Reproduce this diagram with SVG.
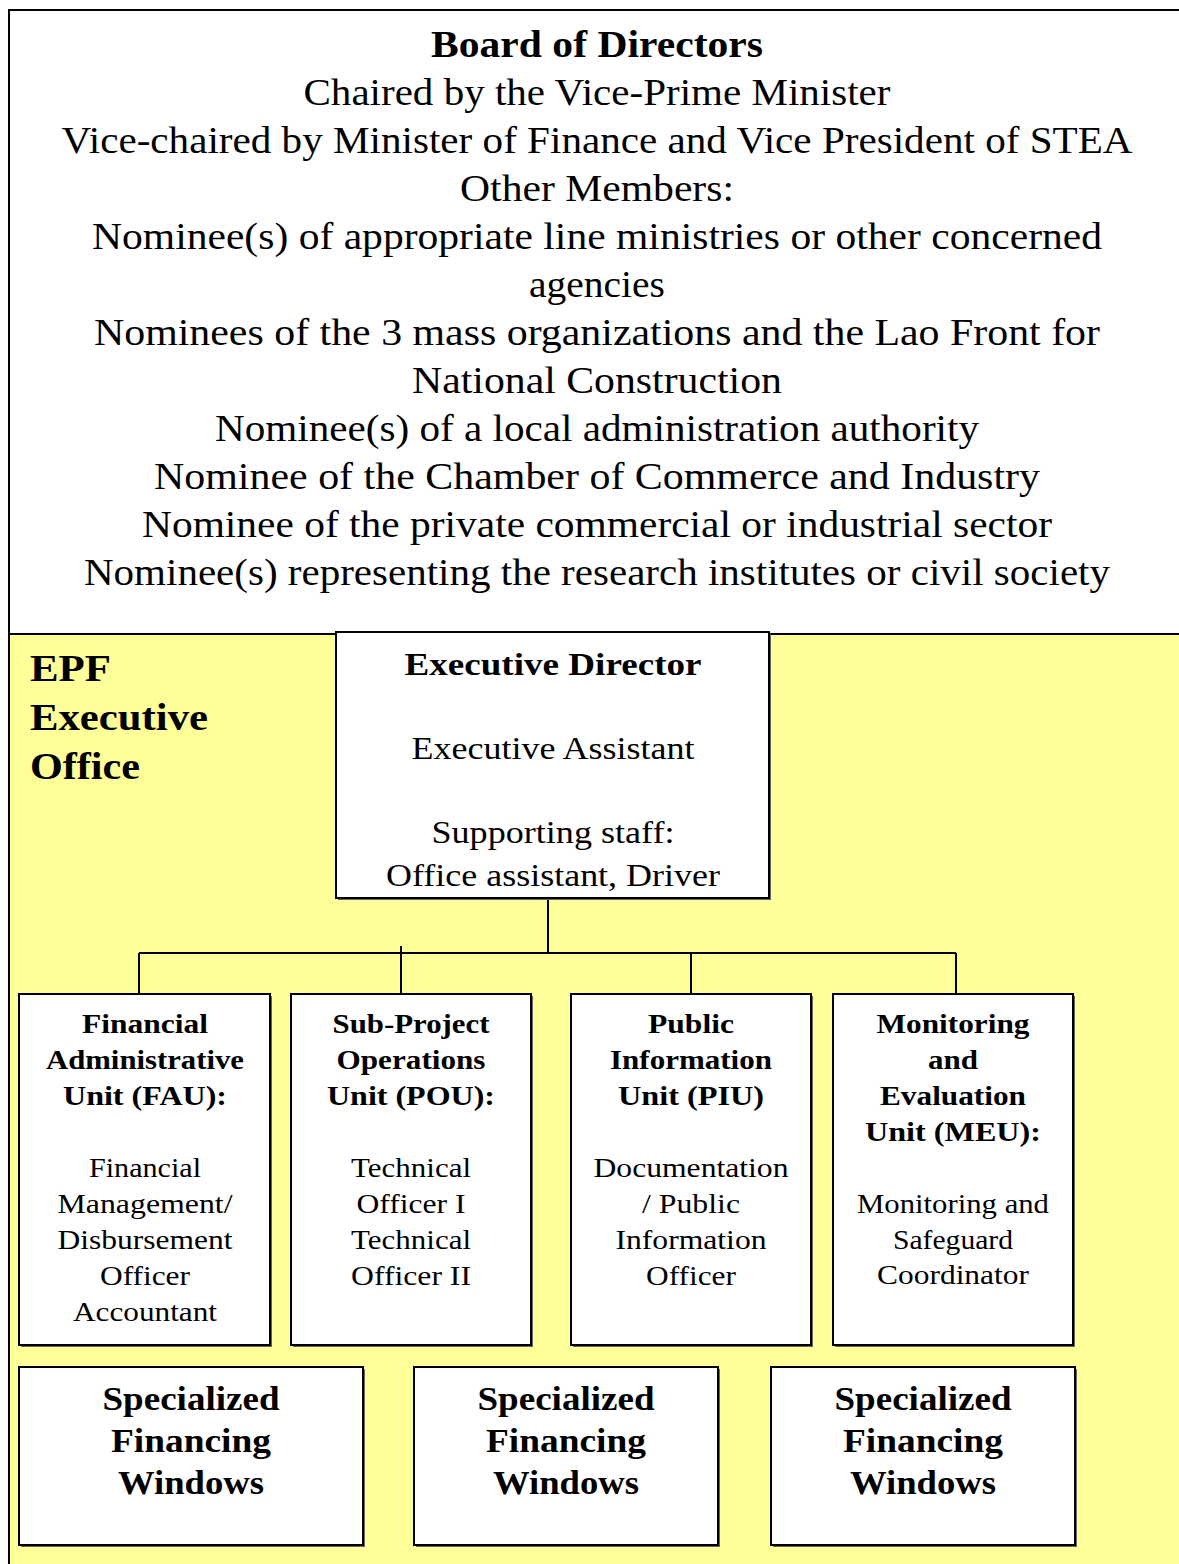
<svg xmlns="http://www.w3.org/2000/svg" width="1179" height="1564" viewBox="0 0 1179 1564">
<style>
text{font-family:"Liberation Serif","Times New Roman",serif;fill:#000;text-anchor:middle}
.b{font-weight:bold}
.box{fill:#fff;stroke:#000;stroke-width:2}
.sh{fill:#666}
.conn{stroke:#000;stroke-width:2;fill:none}
.brd{font-size:37px}
.ed{font-size:31px}
.u{font-size:28px}
.sf{font-size:34px}
</style>
<rect x="0" y="0" width="1179" height="1564" fill="#fff"/>
<g id="board">
<rect x="9" y="10" width="1185" height="624" fill="#fff" stroke="#000" stroke-width="2"/>
<text class="b brd" x="597" y="57" textLength="332" lengthAdjust="spacingAndGlyphs">Board of Directors</text>
<text class="brd" x="597" y="105" textLength="587" lengthAdjust="spacingAndGlyphs">Chaired by the Vice-Prime Minister</text>
<text class="brd" x="597" y="153" textLength="1071" lengthAdjust="spacingAndGlyphs">Vice-chaired by Minister of Finance and Vice President of STEA</text>
<text class="brd" x="597" y="201" textLength="274" lengthAdjust="spacingAndGlyphs">Other Members:</text>
<text class="brd" x="597" y="249" textLength="1010" lengthAdjust="spacingAndGlyphs">Nominee(s) of appropriate line ministries or other concerned</text>
<text class="brd" x="597" y="297" textLength="136" lengthAdjust="spacingAndGlyphs">agencies</text>
<text class="brd" x="597" y="345" textLength="1006" lengthAdjust="spacingAndGlyphs">Nominees of the 3 mass organizations and the Lao Front for</text>
<text class="brd" x="597" y="393" textLength="370" lengthAdjust="spacingAndGlyphs">National Construction</text>
<text class="brd" x="597" y="441" textLength="764" lengthAdjust="spacingAndGlyphs">Nominee(s) of a local administration authority</text>
<text class="brd" x="597" y="489" textLength="886" lengthAdjust="spacingAndGlyphs">Nominee of the Chamber of Commerce and Industry</text>
<text class="brd" x="597" y="537" textLength="910" lengthAdjust="spacingAndGlyphs">Nominee of the private commercial or industrial sector</text>
<text class="brd" x="597" y="585" textLength="1026" lengthAdjust="spacingAndGlyphs">Nominee(s) representing the research institutes or civil society</text>
</g>
<g id="epf-office">
<rect x="9" y="634" width="1185" height="940" fill="#ffff99" stroke="#000" stroke-width="2"/>
<text class="b" style="text-anchor:start;font-size:37px" x="30" y="681" textLength="81" lengthAdjust="spacingAndGlyphs">EPF</text>
<text class="b" style="text-anchor:start;font-size:37px" x="30" y="730" textLength="178" lengthAdjust="spacingAndGlyphs">Executive</text>
<text class="b" style="text-anchor:start;font-size:37px" x="30" y="779" textLength="110" lengthAdjust="spacingAndGlyphs">Office</text>
</g>
<g id="connectors">
<path class="conn" d="M548 898V953M139 953H956M139 953V994M401 946V994M691 953V994M956 953V994"/>
</g>
<g id="exec-director">
<rect class="sh" x="338" y="634" width="433" height="266"/>
<rect class="box" x="336" y="632" width="433" height="266"/>
<text class="b ed" x="553" y="675" textLength="297" lengthAdjust="spacingAndGlyphs">Executive Director</text>
<text class="ed" x="553" y="759" textLength="283" lengthAdjust="spacingAndGlyphs">Executive Assistant</text>
<text class="ed" x="553" y="843" textLength="243" lengthAdjust="spacingAndGlyphs">Supporting staff:</text>
<text class="ed" x="553" y="886" textLength="334" lengthAdjust="spacingAndGlyphs">Office assistant, Driver</text>
</g>
<g id="fau">
<rect class="sh" x="21" y="996" width="251" height="351"/>
<rect class="box" x="19" y="994" width="251" height="351"/>
<text class="b u" x="145" y="1033" textLength="126" lengthAdjust="spacingAndGlyphs">Financial</text>
<text class="b u" x="145" y="1069" textLength="198" lengthAdjust="spacingAndGlyphs">Administrative</text>
<text class="b u" x="145" y="1105" textLength="164" lengthAdjust="spacingAndGlyphs">Unit (FAU):</text>
<text class="u" x="145" y="1177" textLength="112" lengthAdjust="spacingAndGlyphs">Financial</text>
<text class="u" x="145" y="1213" textLength="175" lengthAdjust="spacingAndGlyphs">Management/</text>
<text class="u" x="145" y="1249" textLength="175" lengthAdjust="spacingAndGlyphs">Disbursement</text>
<text class="u" x="145" y="1285" textLength="90" lengthAdjust="spacingAndGlyphs">Officer</text>
<text class="u" x="145" y="1321" textLength="144" lengthAdjust="spacingAndGlyphs">Accountant</text>
</g>
<g id="pou">
<rect class="sh" x="293" y="996" width="240" height="351"/>
<rect class="box" x="291" y="994" width="240" height="351"/>
<text class="b u" x="411" y="1033" textLength="157" lengthAdjust="spacingAndGlyphs">Sub-Project</text>
<text class="b u" x="411" y="1069" textLength="149" lengthAdjust="spacingAndGlyphs">Operations</text>
<text class="b u" x="411" y="1105" textLength="168" lengthAdjust="spacingAndGlyphs">Unit (POU):</text>
<text class="u" x="411" y="1177" textLength="120" lengthAdjust="spacingAndGlyphs">Technical</text>
<text class="u" x="411" y="1213" textLength="109" lengthAdjust="spacingAndGlyphs">Officer I</text>
<text class="u" x="411" y="1249" textLength="120" lengthAdjust="spacingAndGlyphs">Technical</text>
<text class="u" x="411" y="1285" textLength="120" lengthAdjust="spacingAndGlyphs">Officer II</text>
</g>
<g id="piu">
<rect class="sh" x="573" y="996" width="240" height="351"/>
<rect class="box" x="571" y="994" width="240" height="351"/>
<text class="b u" x="691" y="1033" textLength="86" lengthAdjust="spacingAndGlyphs">Public</text>
<text class="b u" x="691" y="1069" textLength="162" lengthAdjust="spacingAndGlyphs">Information</text>
<text class="b u" x="691" y="1105" textLength="146" lengthAdjust="spacingAndGlyphs">Unit (PIU)</text>
<text class="u" x="691" y="1177" textLength="195" lengthAdjust="spacingAndGlyphs">Documentation</text>
<text class="u" x="691" y="1213" textLength="98" lengthAdjust="spacingAndGlyphs">/ Public</text>
<text class="u" x="691" y="1249" textLength="151" lengthAdjust="spacingAndGlyphs">Information</text>
<text class="u" x="691" y="1285" textLength="90" lengthAdjust="spacingAndGlyphs">Officer</text>
</g>
<g id="meu">
<rect class="sh" x="835" y="996" width="240" height="351"/>
<rect class="box" x="833" y="994" width="240" height="351"/>
<text class="b u" x="953" y="1033" textLength="153" lengthAdjust="spacingAndGlyphs">Monitoring</text>
<text class="b u" x="953" y="1069" textLength="50" lengthAdjust="spacingAndGlyphs">and</text>
<text class="b u" x="953" y="1105" textLength="146" lengthAdjust="spacingAndGlyphs">Evaluation</text>
<text class="b u" x="953" y="1141" textLength="176" lengthAdjust="spacingAndGlyphs">Unit (MEU):</text>
<text class="u" x="953" y="1213" textLength="192" lengthAdjust="spacingAndGlyphs">Monitoring and</text>
<text class="u" x="953" y="1249" textLength="120" lengthAdjust="spacingAndGlyphs">Safeguard</text>
<text class="u" x="953" y="1284" textLength="152" lengthAdjust="spacingAndGlyphs">Coordinator</text>
</g>
<g id="sfw1">
<rect class="sh" x="21" y="1369" width="344" height="178"/>
<rect class="box" x="19" y="1367" width="344" height="178"/>
<text class="b sf" x="191" y="1410" textLength="177" lengthAdjust="spacingAndGlyphs">Specialized</text>
<text class="b sf" x="191" y="1452" textLength="160" lengthAdjust="spacingAndGlyphs">Financing</text>
<text class="b sf" x="191" y="1494" textLength="146" lengthAdjust="spacingAndGlyphs">Windows</text>
</g>
<g id="sfw2">
<rect class="sh" x="416" y="1369" width="304" height="178"/>
<rect class="box" x="414" y="1367" width="304" height="178"/>
<text class="b sf" x="566" y="1410" textLength="177" lengthAdjust="spacingAndGlyphs">Specialized</text>
<text class="b sf" x="566" y="1452" textLength="160" lengthAdjust="spacingAndGlyphs">Financing</text>
<text class="b sf" x="566" y="1494" textLength="146" lengthAdjust="spacingAndGlyphs">Windows</text>
</g>
<g id="sfw3">
<rect class="sh" x="773" y="1369" width="304" height="178"/>
<rect class="box" x="771" y="1367" width="304" height="178"/>
<text class="b sf" x="923" y="1410" textLength="177" lengthAdjust="spacingAndGlyphs">Specialized</text>
<text class="b sf" x="923" y="1452" textLength="160" lengthAdjust="spacingAndGlyphs">Financing</text>
<text class="b sf" x="923" y="1494" textLength="146" lengthAdjust="spacingAndGlyphs">Windows</text>
</g>
</svg>
